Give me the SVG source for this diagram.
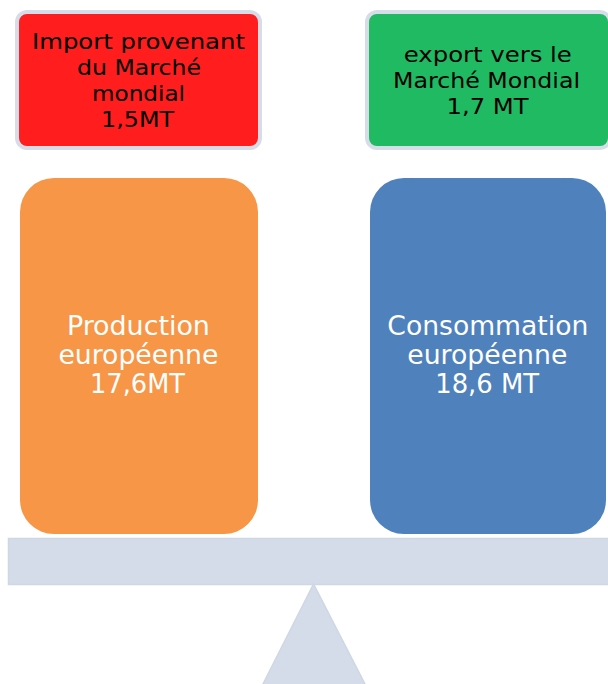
<svg xmlns="http://www.w3.org/2000/svg" width="608" height="684" viewBox="0 0 608 684">
  <style>
    .top { font-family: "DejaVu Sans", Verdana, sans-serif; font-size: 21.5px; fill: #000; text-anchor: middle; }
    .big { font-family: "DejaVu Sans", Verdana, sans-serif; font-size: 26px; fill: #fff; text-anchor: middle; }
    .frame { stroke: #d6dde8; stroke-width: 4; }
    .scale { fill: #d5dce9; stroke: #cfd7e5; stroke-width: 1.5; }
  </style>
  <rect width="608" height="684" fill="#ffffff"/>
  <g id="balance">
    <rect class="scale" x="8.5" y="538.5" width="602" height="46"/>
    <polygon class="scale" points="313.5,584 262,686 366,686"/>
  </g>
  <g id="import">
    <rect class="frame" x="17" y="12" width="243" height="136" rx="10" fill="#ff1d1d"/>
    <text class="top" x="138.5" y="48.5" textLength="213" lengthAdjust="spacingAndGlyphs">Import provenant</text>
    <text class="top" x="139" y="74.5" textLength="124" lengthAdjust="spacingAndGlyphs">du Marché</text>
    <text class="top" x="138.5" y="100.5" textLength="93" lengthAdjust="spacingAndGlyphs">mondial</text>
    <text class="top" x="137.5" y="126.5" textLength="73" lengthAdjust="spacingAndGlyphs">1,5MT</text>
  </g>
  <g id="export">
    <rect class="frame" x="367" y="12" width="243" height="136" rx="10" fill="#1fba61"/>
    <text class="top" x="487.8" y="61.5" textLength="168" lengthAdjust="spacingAndGlyphs">export vers le</text>
    <text class="top" x="486.5" y="87.5" textLength="187" lengthAdjust="spacingAndGlyphs">Marché Mondial</text>
    <text class="top" x="487.5" y="113.5" textLength="82" lengthAdjust="spacingAndGlyphs">1,7 MT</text>
  </g>
  <g id="production">
    <rect x="20" y="178" width="238" height="356" rx="34" fill="#f79646"/>
    <text class="big" x="138.4" y="335" textLength="143" lengthAdjust="spacingAndGlyphs">Production</text>
    <text class="big" x="138.4" y="364" textLength="160" lengthAdjust="spacingAndGlyphs">européenne</text>
    <text class="big" x="137.5" y="393" textLength="95" lengthAdjust="spacingAndGlyphs">17,6MT</text>
  </g>
  <g id="consommation">
    <rect x="370" y="178" width="236" height="356" rx="34" fill="#4f81bd"/>
    <text class="big" x="487.8" y="335" textLength="201" lengthAdjust="spacingAndGlyphs">Consommation</text>
    <text class="big" x="487.3" y="364" textLength="160" lengthAdjust="spacingAndGlyphs">européenne</text>
    <text class="big" x="487.2" y="393" textLength="104" lengthAdjust="spacingAndGlyphs">18,6 MT</text>
  </g>
  <g id="connectors"></g>
</svg>
